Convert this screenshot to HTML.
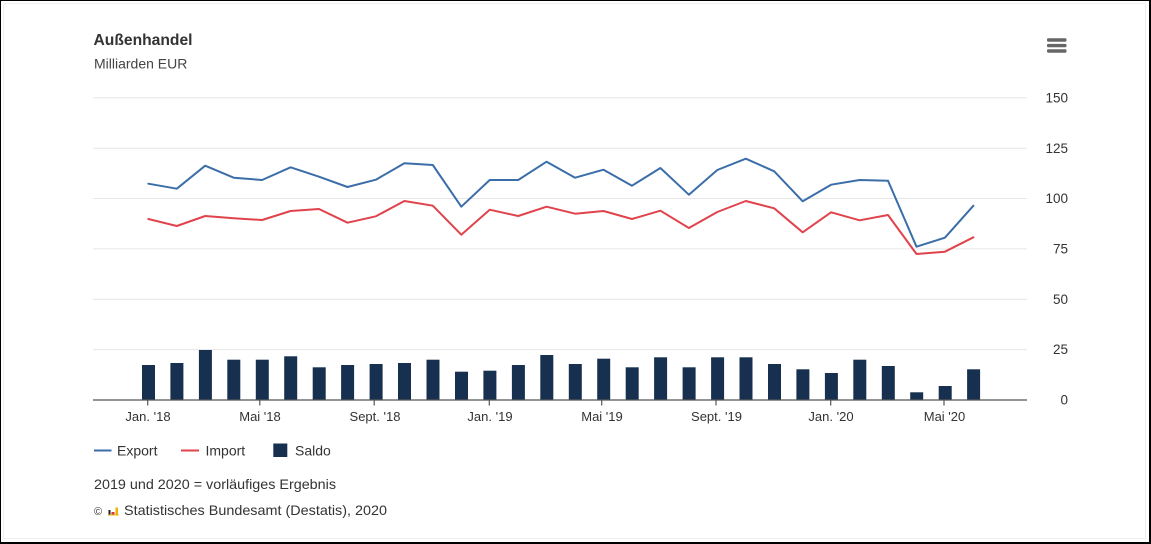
<!DOCTYPE html>
<html><head><meta charset="utf-8"><style>
html,body{margin:0;padding:0;background:#fff;}
body{width:1151px;height:544px;overflow:hidden;position:relative;}
svg{position:absolute;left:0;top:0;}
text{font-family:"Liberation Sans",sans-serif;}
</style></head><body>
<svg width="1151" height="544" viewBox="0 0 1151 544" xmlns="http://www.w3.org/2000/svg">
<rect x="0" y="0" width="1151" height="544" fill="#fff"/>
<rect x="3.5" y="3.5" width="1142" height="535" fill="none" stroke="#f0f0f0" stroke-width="1"/>
<!-- frame -->
<rect x="0" y="0" width="1151" height="1" fill="#000"/>
<rect x="0" y="0" width="1" height="544" fill="#000"/>
<rect x="1149" y="0" width="2" height="544" fill="#000"/>
<rect x="0" y="542" width="1151" height="2" fill="#000"/>

<!-- title -->
<text x="93.5" y="45" font-size="15.5" font-weight="bold" fill="#333" textLength="99" lengthAdjust="spacingAndGlyphs">Außenhandel</text>
<text x="94" y="68.5" font-size="14" fill="#444">Milliarden EUR</text>

<!-- menu icon -->
<g fill="#666">
<rect x="1047" y="38.3" width="19.5" height="3.4" rx="1.2"/>
<rect x="1047" y="43.9" width="19.5" height="3.4" rx="1.2"/>
<rect x="1047" y="49.3" width="19.5" height="3.4" rx="1.2"/>
</g>

<!-- grid -->
<g stroke="#e6e6e6" stroke-width="1">
<line x1="93" y1="97.8" x2="1027" y2="97.8"/>
<line x1="93" y1="148.2" x2="1027" y2="148.2"/>
<line x1="93" y1="198.5" x2="1027" y2="198.5"/>
<line x1="93" y1="248.9" x2="1027" y2="248.9"/>
<line x1="93" y1="299.3" x2="1027" y2="299.3"/>
<line x1="93" y1="349.6" x2="1027" y2="349.6"/>
</g>

<!-- y labels -->
<g font-size="13.5" fill="#333" text-anchor="end">
<text x="1068" y="102.5">150</text>
<text x="1068" y="152.8">125</text>
<text x="1068" y="203.2">100</text>
<text x="1068" y="253.5">75</text>
<text x="1068" y="303.9">50</text>
<text x="1068" y="354.2">25</text>
<text x="1068" y="404.6">0</text>
</g>

<!-- bars -->
<g fill="#17304f">
<rect x="142.0" y="365" width="13" height="35"/>
<rect x="170.4" y="363" width="13" height="37"/>
<rect x="198.9" y="350" width="13" height="50"/>
<rect x="227.3" y="359.7" width="13" height="40.3"/>
<rect x="255.8" y="359.7" width="13" height="40.3"/>
<rect x="284.2" y="356.3" width="13" height="43.7"/>
<rect x="312.7" y="367.3" width="13" height="32.7"/>
<rect x="341.1" y="365" width="13" height="35"/>
<rect x="369.6" y="364" width="13" height="36"/>
<rect x="398.0" y="363" width="13" height="37"/>
<rect x="426.5" y="359.7" width="13" height="40.3"/>
<rect x="455.0" y="371.7" width="13" height="28.3"/>
<rect x="483.4" y="370.7" width="13" height="29.3"/>
<rect x="511.9" y="365" width="13" height="35"/>
<rect x="540.3" y="355" width="13" height="45"/>
<rect x="568.8" y="364" width="13" height="36"/>
<rect x="597.2" y="358.7" width="13" height="41.3"/>
<rect x="625.7" y="367.3" width="13" height="32.7"/>
<rect x="654.1" y="357.3" width="13" height="42.7"/>
<rect x="682.6" y="367.3" width="13" height="32.7"/>
<rect x="711.1" y="357.3" width="13" height="42.7"/>
<rect x="739.5" y="357.3" width="13" height="42.7"/>
<rect x="768.0" y="364" width="13" height="36"/>
<rect x="796.4" y="369.3" width="13" height="30.7"/>
<rect x="824.9" y="373" width="13" height="27"/>
<rect x="853.3" y="359.7" width="13" height="40.3"/>
<rect x="881.8" y="366" width="13" height="34"/>
<rect x="910.2" y="392.3" width="13" height="7.7"/>
<rect x="938.7" y="386" width="13" height="14"/>
<rect x="967.1" y="369.3" width="13" height="30.7"/>
</g>

<!-- axis -->
<line x1="93" y1="400" x2="1027" y2="400" stroke="#555" stroke-width="1.3"/>
<g stroke="#555" stroke-width="1.2">
<line x1="147.7" y1="400" x2="147.7" y2="405.5"/>
<line x1="259.8" y1="400" x2="259.8" y2="405.5"/>
<line x1="374.2" y1="400" x2="374.2" y2="405.5"/>
<line x1="489.3" y1="400" x2="489.3" y2="405.5"/>
<line x1="601.7" y1="400" x2="601.7" y2="405.5"/>
<line x1="716" y1="400" x2="716" y2="405.5"/>
<line x1="830.7" y1="400" x2="830.7" y2="405.5"/>
<line x1="944" y1="400" x2="944" y2="405.5"/>
</g>

<!-- x labels -->
<g font-size="13" fill="#333" text-anchor="middle">
<text x="148" y="421">Jan. '18</text>
<text x="260" y="421">Mai '18</text>
<text x="375" y="421">Sept. '18</text>
<text x="490" y="421">Jan. '19</text>
<text x="602" y="421">Mai '19</text>
<text x="716.5" y="421">Sept. '19</text>
<text x="831" y="421">Jan. '20</text>
<text x="944.5" y="421">Mai '20</text>
</g>

<!-- import -->
<polyline fill="none" stroke="#e0434c" stroke-width="2" stroke-linejoin="round" stroke-linecap="round"
points="148.3,219 176.8,226 205.2,216 233.7,218.3 262.1,220 290.6,211 319,209 347.5,222.7 375.9,216.3 404.4,201 432.8,205.7 461.3,234.7 489.7,209.7 518.2,216 546.6,206.7 575.1,213.7 603.5,211 632,219 660.4,210.7 688.9,228 717.3,212 745.8,201 774.2,208.3 802.7,232.3 831.1,212.3 859.6,220.3 888,215 916.5,254 944.9,251.7 973.4,237.3"/>

<!-- export -->
<polyline fill="none" stroke="#3b6ea8" stroke-width="2" stroke-linejoin="round" stroke-linecap="round"
points="148.3,183.7 176.8,188.7 205.2,165.7 233.7,177.7 262.1,180 290.6,167.3 319,176.7 347.5,187 375.9,179.7 404.4,163.3 432.8,165 461.3,206.7 489.7,180 518.2,180 546.6,161.7 575.1,177.7 603.5,169.7 632,185.7 660.4,168 688.9,194.7 717.3,170 745.8,158.7 774.2,171.3 802.7,201.3 831.1,184.7 859.6,180 888,180.7 916.5,246.7 944.9,237.7 973.4,205.7"/>

<!-- legend -->
<line x1="94" y1="450.5" x2="111.5" y2="450.5" stroke="#3b6ea8" stroke-width="2"/>
<text x="117" y="455.5" font-size="14" fill="#333">Export</text>
<line x1="181" y1="450.5" x2="199" y2="450.5" stroke="#e0434c" stroke-width="2"/>
<text x="205.5" y="455.5" font-size="14" fill="#333">Import</text>
<rect x="273.3" y="443.5" width="14" height="13.5" fill="#17304f"/>
<text x="295" y="455.5" font-size="14" fill="#333">Saldo</text>

<!-- footnotes -->
<text x="94" y="489" font-size="14" fill="#333" textLength="242" lengthAdjust="spacingAndGlyphs">2019 und 2020 = vorläufiges Ergebnis</text>
<text x="94" y="515" font-size="11" fill="#333">©</text>
<g>
<rect x="108.5" y="510" width="2" height="5" fill="#222"/>
<rect x="111.5" y="512" width="3" height="3" fill="#d33"/>
<rect x="115.5" y="507.5" width="2.5" height="7.5" fill="#e8b400"/>
<rect x="108" y="514.5" width="11" height="1" fill="#e8b400"/>
</g>
<text x="124" y="515" font-size="14" fill="#333" textLength="263" lengthAdjust="spacingAndGlyphs">Statistisches Bundesamt (Destatis), 2020</text>
</svg>
</body></html>
